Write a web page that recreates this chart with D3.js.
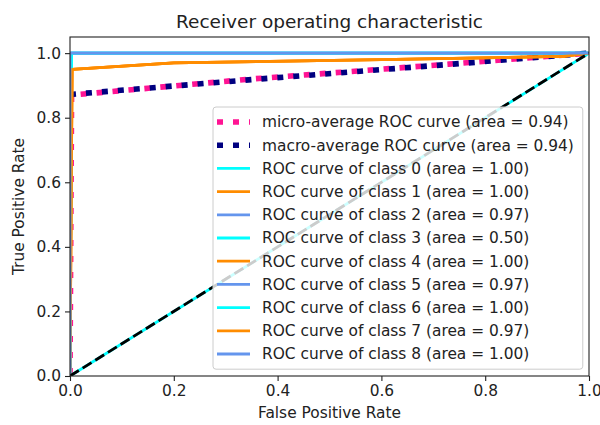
<!DOCTYPE html>
<html>
<head>
<meta charset="utf-8">
<script src="https://cdn.jsdelivr.net/npm/d3@7"></script>
<style>
  body { margin: 0; background: #fff; }
  text { font-family: 'DejaVu Sans', sans-serif; fill: #222; }
</style>
</head>
<body>
<div id="chartContainer"></div>
<script>
// ROC curves, values
const classIds = [0, 1, 2, 3, 4, 5, 6, 7, 8];
const classAuc = ['1.00', '1.00', '0.97', '0.50', '1.00', '0.97', '1.00', '0.97', '1.00'];
const classColors = ['aqua', 'darkorange', 'cornflowerblue'];

// per-class curves (false positive rate / true positive rate)
const classFpr = [
  [0, 0.003, 1],
  [0, 0.004, 0.2, 0.6, 0.95, 1],
  [0, 0, 1],
  [0, 1],
  [0, 0.004, 0.2, 0.6, 0.95, 1],
  [0, 0, 1],
  [0, 0.003, 1],
  [0, 0.004, 0.2, 0.6, 0.95, 1],
  [0, 0, 1]
];
const classTpr = [
  [0, 1, 1],
  [0, 0.95, 0.97, 0.98, 0.99, 1],
  [0, 1, 1],
  [0, 1],
  [0, 0.95, 0.97, 0.98, 0.99, 1],
  [0, 1, 1],
  [0, 1, 1],
  [0, 0.95, 0.97, 0.98, 0.99, 1],
  [0, 1, 1]
];

const microFpr = [0, 0.003, 0.35, 0.73, 1];
const microTpr = [0, 0.87, 0.92, 0.966, 1];
const macroFpr = [0, 0.35, 0.73, 1];
const macroTpr = [0.872, 0.918, 0.965, 1];
const microAuc = '0.94';
const macroAuc = '0.94';

const chanceFpr = [0, 1];
const chanceTpr = [0, 1];

const xTicks = [0, 0.2, 0.4, 0.6, 0.8, 1.0];
const yTicks = [0, 0.2, 0.4, 0.6, 0.8, 1.0];

// Dimensions of svg
const width = 600;
const height = 425;
const plot = { left: 70, right: 589, top: 37, bottom: 376 };
const fontSize = 15.4;

const svg = d3
  .select('#chartContainer')
  .append('svg')
  .attr('width', width)
  .attr('height', height);

const x = d3.scaleLinear().domain([0, 1]).range([plot.left, plot.right]);
const y = d3.scaleLinear().domain([0, 1.05]).range([plot.bottom, plot.top]);

svg.append('defs')
  .append('clipPath')
  .attr('id', 'plotClip')
  .append('rect')
  .attr('x', plot.left)
  .attr('y', plot.top)
  .attr('width', plot.right - plot.left)
  .attr('height', plot.bottom - plot.top);

const line = d3.line().x(d => x(d[0])).y(d => y(d[1]));
const pairs = (fx, fy) => fx.map((v, i) => [v, fy[i]]);

const lines = svg.append('g').attr('clip-path', 'url(#plotClip)');

// micro / macro averages, dotted
const dotted = { width: 5.6, dash: '6 10' };
lines.append('path')
  .attr('d', line(pairs(microFpr, microTpr)))
  .attr('fill', 'none')
  .attr('stroke', 'deeppink')
  .attr('stroke-width', dotted.width)
  .attr('stroke-dasharray', dotted.dash)
  .attr('stroke-dashoffset', -2);
lines.append('path')
  .attr('d', line(pairs(macroFpr, macroTpr)))
  .attr('fill', 'none')
  .attr('stroke', 'navy')
  .attr('stroke-width', dotted.width)
  .attr('stroke-dasharray', dotted.dash);

// one line per class
classIds.forEach(i => {
  lines.append('path')
    .attr('d', line(pairs(classFpr[i], classTpr[i])))
    .attr('fill', 'none')
    .attr('stroke', classColors[i % 3])
    .attr('stroke-width', 2.8)
    .attr('stroke-linejoin', 'round');
});

// chance diagonal
lines.append('path')
  .attr('d', line(pairs(chanceFpr, chanceTpr)))
  .attr('fill', 'none')
  .attr('stroke', 'black')
  .attr('stroke-width', 2.8)
  .attr('stroke-dasharray', '10.4 4.5');

// Axes
const xAxis = d3.axisBottom(x).tickValues(xTicks).tickFormat(d3.format('.1f')).tickSize(5).tickPadding(4);
const yAxis = d3.axisLeft(y).tickValues(yTicks).tickFormat(d3.format('.1f')).tickSize(5).tickPadding(4);

const gx = svg.append('g')
  .attr('transform', `translate(0,${plot.bottom})`)
  .call(xAxis);
const gy = svg.append('g')
  .attr('transform', `translate(${plot.left},0)`)
  .call(yAxis);
[gx, gy].forEach(g => {
  g.select('.domain').remove();
  g.selectAll('.tick line').attr('stroke', '#222').attr('stroke-width', 1.1);
  g.selectAll('.tick text')
    .style('font-family', "'DejaVu Sans', sans-serif")
    .style('font-size', fontSize + 'px')
    .attr('fill', '#222');
});

// Frame
svg.append('rect')
  .attr('x', plot.left)
  .attr('y', plot.top)
  .attr('width', plot.right - plot.left)
  .attr('height', plot.bottom - plot.top)
  .attr('fill', 'none')
  .attr('stroke', '#222')
  .attr('stroke-width', 1.1);

// Labels
svg.append('text')
  .attr('x', (plot.left + plot.right) / 2)
  .attr('y', 28)
  .attr('text-anchor', 'middle')
  .style('font-size', '18.5px')
  .text('Receiver operating characteristic');
svg.append('text')
  .attr('x', (plot.left + plot.right) / 2)
  .attr('y', 418)
  .attr('text-anchor', 'middle')
  .style('font-size', fontSize + 'px')
  .text('False Positive Rate');
svg.append('text')
  .attr('transform', `translate(24,${(plot.top + plot.bottom) / 2}) rotate(-90)`)
  .attr('text-anchor', 'middle')
  .style('font-size', fontSize + 'px')
  .text('True Positive Rate');

// Legend
const legendItems = [
  { label: `micro-average ROC curve (area = ${microAuc})`, color: 'deeppink', dotted: true },
  { label: `macro-average ROC curve (area = ${macroAuc})`, color: 'navy', dotted: true }
].concat(classIds.map(i => ({
  label: `ROC curve of class ${i} (area = ${classAuc[i]})`,
  color: classColors[i % 3],
  dotted: false
})));

const rowH = 23.2;
const legend = svg.append('g');
const box = legend.append('rect')
  .attr('fill', 'white')
  .attr('fill-opacity', 0.8)
  .attr('stroke', '#ccc')
  .attr('stroke-width', 1)
  .attr('rx', 3);

const legendX = 213;
const legendTop = 107;
const rows = legend.selectAll('.row')
  .data(legendItems)
  .enter()
  .append('g')
  .attr('class', 'row')
  .attr('transform', (d, i) => `translate(${legendX},${legendTop + 15 + i * rowH})`);
rows.append('line')
  .attr('x1', 4)
  .attr('x2', 37)
  .attr('stroke', d => d.color)
  .attr('stroke-width', d => d.dotted ? dotted.width : 2.8)
  .attr('stroke-dasharray', d => d.dotted ? dotted.dash : null);
const labels = rows.append('text')
  .attr('x', 49)
  .attr('dy', '0.35em')
  .style('font-size', fontSize + 'px')
  .text(d => d.label);

const maxW = d3.max(labels.nodes(), n => n.getComputedTextLength());
box
  .attr('x', legendX)
  .attr('y', legendTop)
  .attr('width', 49 + maxW + 9)
  .attr('height', legendItems.length * rowH + 7);
</script>
</body>
</html>
